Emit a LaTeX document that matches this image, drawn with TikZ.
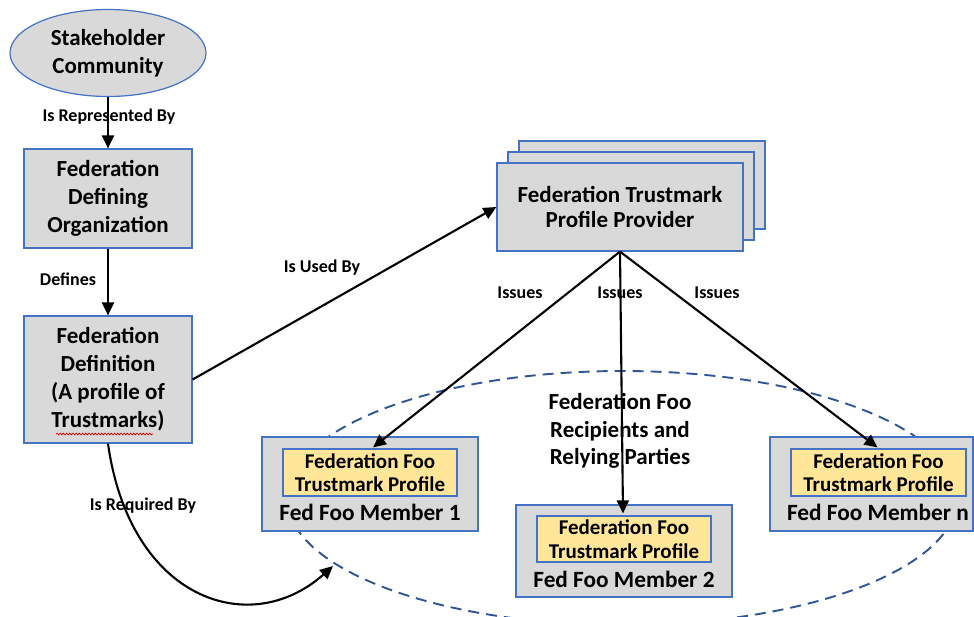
\documentclass[tikz,border=0pt]{standalone}
\usepackage{fontspec}
\setmainfont{Carlito}
\usetikzlibrary{arrows.meta,shapes.geometric,decorations.pathmorphing,calc}
\definecolor{boxgray}{RGB}{217,217,217}
\definecolor{boxblue}{RGB}{68,114,196}
\definecolor{profileyellow}{RGB}{255,230,153}
\definecolor{ringblue}{RGB}{47,85,151}
\tikzset{
  entity/.style={draw=boxblue, line width=1.2pt, fill=boxgray, align=center,
    inner sep=0pt, font=\fontsize{23}{28}\selectfont\bfseries},
  profile/.style={draw=boxblue, line width=1.2pt, fill=profileyellow, align=center,
    inner sep=0pt, minimum width=174pt, minimum height=47pt,
    font=\fontsize{21}{23.5}\selectfont\bfseries},
  membername/.style={inner sep=0pt, font=\fontsize{23.3}{26}\selectfont\bfseries},
  rel/.style={-{Triangle[length=13pt,width=12pt]}, line width=2.1pt, black},
  lbl/.style={inner sep=0pt, font=\fontsize{18}{20}\selectfont\bfseries},
  ring/.style={ellipse, draw=ringblue, line width=1.9pt, dash pattern=on 11pt off 7pt,
    minimum width=670pt, minimum height=254pt, inner sep=0pt}
}
\begin{document}
\begin{tikzpicture}[x=1pt,y=-1pt]
  \useasboundingbox (0,0) rectangle (974,616);
  \fill[white] (0,0) rectangle (974,616);

  % membership ring behind the member boxes
  \node[ring] (ring) at (622,498) {};

  % left column
  \node[entity, ellipse, minimum width=196pt, minimum height=87pt] (stake) at (108,53)
    {Stakeholder\\Community};
  \node[entity, minimum width=168pt, minimum height=99pt] (fdo) at (108,198.5)
    {Federation\\Defining\\Organization};
  \node[entity, minimum width=168pt, minimum height=127pt] (fd) at (108,379.5)
    {Federation\\Definition\\(A profile of\\Trustmarks)};
  \draw[red, line width=0.7pt, decorate,
    decoration={snake, amplitude=0.9pt, segment length=3.2pt}]
    (56,434) -- (153,434);

  % stacked profile providers
  \node[entity, minimum width=246pt, minimum height=88pt] (ftppback2) at (642,185) {};
  \node[entity, minimum width=246pt, minimum height=88pt] (ftppback1) at (631,196) {};
  \node[entity, minimum width=246pt, minimum height=88pt,
    font=\fontsize{23}{24.5}\selectfont\bfseries] (ftpp) at (620,207)
    {Federation Trustmark\\Profile Provider};

  % members
  \node[entity, minimum width=216pt, minimum height=94pt] (m1) at (370,484) {};
  \node[profile] (m1p) at (370,472.5) {Federation Foo\\Trustmark Profile};
  \node[membername] (m1n) at (370,512) {Fed Foo Member 1};

  \node[entity, minimum width=216pt, minimum height=92pt] (m2) at (624,551) {};
  \node[profile, minimum height=46pt] (m2p) at (624,539) {Federation Foo\\Trustmark Profile};
  \node[membername] (m2n) at (624,579) {Fed Foo Member 2};

  \node[entity, minimum width=203pt, minimum height=94pt] (mn) at (871.5,484) {};
  \node[profile, minimum width=175pt] (mnp) at (878.5,472.5) {Federation Foo\\Trustmark Profile};
  \node[membername] (mnn) at (878,512) {Fed Foo Member n};

  % relations
  \draw[rel] (stake) -- (fdo);
  \draw[rel] (fdo) -- (fd);
  \draw[rel] (fd.east) -- (ftpp.west);
  \coordinate (m1tip) at ($(m1p.north)+(3,-1)$);
  \coordinate (mntip) at ($(mnp.north)+(-1,-1)$);
  \coordinate (m2tip) at ($(m2p.north)+(-1,-2)$);
  \draw[rel] (ftpp.south) -- (m1tip);
  \draw[rel] (ftpp.south) -- (m2tip);
  \draw[rel] (ftpp.south) -- (mntip);
  \coordinate (ringhit) at (333,566);
  \draw[rel] (fd.south) .. controls (130,600) and (250,640) .. (ringhit);

  % labels
  \node[lbl] (lrep) at (109,117) {Is Represented By};
  \node[lbl] (ldef) at (68,279) {Defines};
  \node[lbl] (lused) at (322,268) {Is Used By};
  \node[lbl] (liss1) at (520,293) {Issues};
  \node[lbl] (liss2) at (620,293) {Issues};
  \node[lbl] (liss3) at (717,293) {Issues};
  \node[lbl] (lreq) at (143,506) {Is Required By};
  \node[align=center, inner sep=0pt, font=\fontsize{23}{27.5}\selectfont\bfseries]
    (ringlabel) at (620,431) {Federation Foo\\Recipients and\\Relying Parties};
\end{tikzpicture}
\end{document}
